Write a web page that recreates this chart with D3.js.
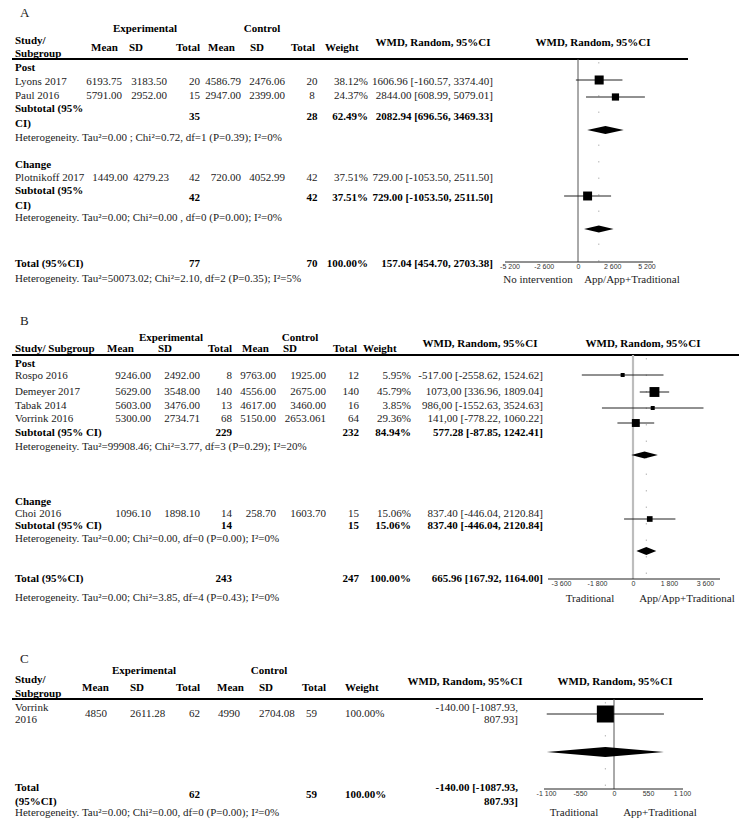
<!DOCTYPE html>
<html><head><meta charset="utf-8">
<script src="https://cdn.jsdelivr.net/npm/d3@7"></script>
<style>
body{margin:0;background:#fff}
svg{display:block}
text{font-family:"Liberation Serif","Times New Roman",serif}
</style>
</head><body>
<svg id="c" width="746" height="825"></svg>
<script>
// ================= DATA =================
// ---- Panel A ----
const studiesA   = ["Lyons 2017","Paul 2016","Plotnikoff 2017"];
const groupOfA   = [0,0,1];
const groupsA    = ["Post","Change"];
const expMeanA   = ["6193.75","5791.00","1449.00"];
const expSDA     = ["3183.50","2952.00","4279.23"];
const expNA      = [20,15,42];
const ctlMeanA   = ["4586.79","2947.00","720.00"];
const ctlSDA     = ["2476.06","2399.00","4052.99"];
const ctlNA      = [20,8,42];
const weightA    = [38.12,24.37,37.51];
const wmdA       = [1606.96,2844.00,729.00];
const loA        = [-160.57,608.99,-1053.50];
const hiA        = [3374.40,5079.01,2511.50];
const ciTextA    = ["1606.96 [-160.57, 3374.40]","2844.00 [608.99, 5079.01]","729.00 [-1053.50, 2511.50]"];
const subExpNA   = [35,42];
const subCtlNA   = [28,42];
const subWeightA = [62.49,37.51];
const subWmdA    = [2082.94,729.00];
const subLoA     = [696.56,-1053.50];
const subHiA     = [3469.33,2511.50];
const subCiTextA = ["2082.94 [696.56, 3469.33]","729.00 [-1053.50, 2511.50]"];
const hetA       = ["Heterogeneity. Tau²=0.00 ; Chi²=0.72, df=1 (P=0.39); I²=0%",
                    "Heterogeneity. Tau²=0.00; Chi²=0.00 , df=0 (P=0.00); I²=0%"];
const totalA     = {expN:77, ctlN:70, weight:100, wmd:1579.04, lo:454.70, hi:2703.38,
                    ciText:"157.04 [454.70, 2703.38]",
                    het:"Heterogeneity. Tau²=50073.02; Chi²=2.10, df=2 (P=0.35); I²=5%"};
const ticksA     = [-5200,-2600,0,2600,5200];
const sideLabelsA= ["No intervention","App/App+Traditional"];

// ---- Panel B ----
const studiesB   = ["Rospo 2016","Demeyer 2017","Tabak 2014","Vorrink 2016","Choi 2016"];
const groupOfB   = [0,0,0,0,1];
const groupsB    = ["Post","Change"];
const expMeanB   = ["9246.00","5629.00","5603.00","5300.00","1096.10"];
const expSDB     = ["2492.00","3548.00","3476.00","2734.71","1898.10"];
const expNB      = [8,140,13,68,14];
const ctlMeanB   = ["9763.00","4556.00","4617.00","5150.00","258.70"];
const ctlSDB     = ["1925.00","2675.00","3460.00","2653.061","1603.70"];
const ctlNB      = [12,140,16,64,15];
const weightB    = [5.95,45.79,3.85,29.36,15.06];
const wmdB       = [-517.00,1073.00,986.00,141.00,837.40];
const loB        = [-2558.62,336.96,-1552.63,-778.22,-446.04];
const hiB        = [1524.62,1809.04,3524.63,1060.22,2120.84];
const ciTextB    = ["-517.00 [-2558.62, 1524.62]","1073,00 [336.96, 1809.04]","986,00 [-1552.63, 3524.63]",
                    "141,00 [-778.22, 1060.22]","837.40 [-446.04, 2120.84]"];
const subExpNB   = [229,14];
const subCtlNB   = [232,15];
const subWeightB = [84.94,15.06];
const subWmdB    = [577.28,837.40];
const subLoB     = [-87.85,-446.04];
const subHiB     = [1242.41,2120.84];
const subCiTextB = ["577.28 [-87.85, 1242.41]","837.40 [-446.04, 2120.84]"];
const hetB       = ["Heterogeneity. Tau²=99908.46; Chi²=3.77, df=3 (P=0.29); I²=20%",
                    "Heterogeneity. Tau²=0.00; Chi²=0.00, df=0 (P=0.00); I²=0%"];
const totalB     = {expN:243, ctlN:247, weight:100, wmd:665.96, lo:167.92, hi:1164.00,
                    ciText:"665.96 [167.92, 1164.00]",
                    het:"Heterogeneity. Tau²=0.00; Chi²=3.85, df=4 (P=0.43); I²=0%"};
const ticksB     = [-3600,-1800,0,1800,3600];
const sideLabelsB= ["Traditional","App/App+Traditional"];

// ---- Panel C ----
const studiesC   = ["Vorrink|2016"];
const expMeanC   = ["4850"];
const expSDC     = ["2611.28"];
const expNC      = [62];
const ctlMeanC   = ["4990"];
const ctlSDC     = ["2704.08"];
const ctlNC      = [59];
const weightC    = [100.00];
const wmdC       = [-140.00];
const loC        = [-1087.93];
const hiC        = [807.93];
const ciTextC    = ["-140.00 [-1087.93,|807.93]"];
const totalC     = {expN:62, ctlN:59, weight:100, wmd:-140.00, lo:-1087.93, hi:807.93,
                    ciText:"-140.00 [-1087.93,|807.93]",
                    het:"Heterogeneity. Tau²=0.00; Chi²=0.00, df=0 (P=0.00); I²=0%"};
const ticksC     = [-1100,-550,0,550,1100];
const sideLabelsC= ["Traditional","App+Traditional"];

// ================= DRAWING =================
const svg = d3.select("#c");
const fmtW = d => d3.format(".2f")(d) + "%";
const fmtTick = d => (d < 0 ? "-" : "") + d3.format(",")(Math.abs(d)).replace(/,/g, " ");

function T(x, y, s, o = {}) {
  const lines = String(s).split("|");
  const lh = o.lh || 14;
  lines.forEach((ln, i) => {
    svg.append("text")
      .attr("x", x).attr("y", y + i * lh).attr("dy", "0.35em")
      .attr("font-size", o.size || 11)
      .attr("text-anchor", o.anchor || "start")
      .attr("font-weight", o.bold ? "bold" : "normal")
      .attr("fill", o.fill || (o.bold ? "#000" : "#222"))
      .text(ln);
  });
}

function header(L) {
  T(L.letter[0], L.letter[1], L.letterText, {size: 13});
  T(L.expHdr[0], L.hdrTopY, "Experimental", {bold: true, anchor: "middle"});
  T(L.ctlHdr[0], L.hdrTopY, "Control", {bold: true, anchor: "middle"});
  T(15, L.studyHdrY, L.studyHdr, {bold: true, lh: L.studyHdrLH});
  const names = ["Mean","SD","Total","Mean","SD","Total","Weight"];
  names.forEach((n, i) => T(L.hdrX[i], L.hdrY, n, {bold: true}));
  T(L.wmdHdr[0], L.wmdHdrY, "WMD, Random, 95%CI", {bold: true, anchor: "middle"});
  T(L.wmdHdr[1], L.wmdHdrY, "WMD, Random, 95%CI", {bold: true, anchor: "middle"});
  svg.append("line").attr("x1", 12).attr("x2", L.ruleX2).attr("y1", L.ruleY).attr("y2", L.ruleY)
    .attr("stroke", "#000").attr("stroke-width", 2);
}

function tableRow(L, y, cells, bold, shift) {
  const C = L.cols;
  Object.keys(cells).forEach(k => {
    if (cells[k] === undefined || cells[k] === null) return;
    const c = C[k];
    const yy = (k === "ci" && L.ciY) ? y + L.ciY : y;
    const dx = (shift && shift[k]) || 0;
    T(c[0] + dx, yy, cells[k], {anchor: c[1], bold: bold, lh: L.ciLH || 14});
  });
}

function forest(L, x, rows, diamonds, total) {
  svg.append("line").attr("x1", x(0)).attr("x2", x(0)).attr("y1", L.ruleY).attr("y2", L.axisY)
    .attr("stroke", L.zeroColor).attr("stroke-width", L.zeroWidth);
  svg.append("line").attr("x1", x(total.wmd)).attr("x2", x(total.wmd)).attr("y1", L.ruleY + 3).attr("y2", L.axisY)
    .attr("stroke", "#b5b5b5").attr("stroke-width", 1).attr("stroke-dasharray", "1.5,15");
  const size = d3.scaleSqrt().domain([0, 100]).range([0, L.maxSq]);
  rows.forEach(r => {
    svg.append("line").attr("x1", x(r.lo)).attr("x2", x(r.hi)).attr("y1", r.y).attr("y2", r.y)
      .attr("stroke", "#222").attr("stroke-width", 1);
    const s = Math.max(4, size(r.w));
    svg.append("rect").attr("x", x(r.est) - s / 2).attr("y", r.y - s / 2).attr("width", s).attr("height", s)
      .attr("fill", "#000");
  });
  diamonds.forEach(d => {
    const pts = [[x(d.lo), d.y], [x(d.est), d.y - d.h], [x(d.hi), d.y], [x(d.est), d.y + d.h]];
    svg.append("polygon").attr("points", pts.map(p => p.join(",")).join(" ")).attr("fill", "#000");
  });
  const g = svg.append("g").attr("transform", `translate(0,${L.axisY})`);
  g.call(d3.axisBottom(x).tickValues(L.ticks).tickFormat(fmtTick).tickSize(0).tickPadding(2));
  g.select(".domain").remove();
  g.append("line").attr("x1", L.axisX[0]).attr("x2", L.axisX[1]).attr("stroke", "#222").attr("stroke-width", 1);
  g.selectAll(".tick text").attr("font-size", 7).attr("fill", "#333")
    .style("font-family", "'Liberation Sans',Arial,sans-serif");
  T(L.sideX[0], L.sideY, L.side[0], {anchor: "middle"});
  T(L.sideX[1], L.sideY, L.side[1], {anchor: "middle"});
}

// ---------------- Panel A ----------------
(function () {
  const L = {
    letterText: "A", letter: [20, 12], hdrTopY: 28, expHdr: [145], ctlHdr: [262],
    studyHdr: "Study/|Subgroup", studyHdrY: 40, studyHdrLH: 13, hdrY: 47,
    hdrX: [91, 129, 176, 208, 250, 291, 325], wmdHdr: [433, 593], wmdHdrY: 42,
    ruleY: 59, ruleX2: 688,
    cols: {expMean: [122, "end"], expSD: [167, "end"], expN: [200, "end"], ctlMean: [241, "end"],
           ctlSD: [285, "end"], ctlN: [312, "middle"], weight: [368, "end"], ci: [493, "end"]},
    axisY: 262, axisX: [505, 653], ticks: ticksA, maxSq: 14.6,
    zeroColor: "#555", zeroWidth: 1, sideX: [538, 632], sideY: 279, side: sideLabelsA
  };
  header(L);
  const x = d3.scaleLinear().domain([-5200, 5200]).range([509.5, 646.5]);
  const layout = [
    {g: 67, studies: [81, 95], marks: [80, 97], shift: [null, null], sub: 108, subN: 116, het: 137, dia: 130},
    {g: 164, studies: [177], marks: [196], shift: [{expMean: 6, expSD: 2}], sub: 190, subN: 197, het: 217, dia: null}
  ];
  const rows = [], diamonds = [];
  groupsA.forEach((gname, gi) => {
    const Ly = layout[gi];
    T(15, Ly.g, gname, {bold: true});
    const idx = d3.range(studiesA.length).filter(i => groupOfA[i] === gi);
    idx.forEach((i, k) => {
      const y = Ly.studies[k];
      T(15, y, studiesA[i]);
      tableRow(L, y, {expMean: expMeanA[i], expSD: expSDA[i], expN: expNA[i], ctlMean: ctlMeanA[i],
        ctlSD: ctlSDA[i], ctlN: ctlNA[i], weight: fmtW(weightA[i]), ci: ciTextA[i]}, false, Ly.shift[k]);
      rows.push({y: Ly.marks[k], est: wmdA[i], lo: loA[i], hi: hiA[i], w: weightA[i]});
    });
    T(15, Ly.sub, "Subtotal (95%|CI)", {bold: true, lh: 15});
    tableRow(L, Ly.subN, {expN: subExpNA[gi], ctlN: subCtlNA[gi], weight: fmtW(subWeightA[gi]), ci: subCiTextA[gi]}, true);
    T(15, Ly.het, hetA[gi]);
    if (Ly.dia) diamonds.push({y: Ly.dia, h: 4, est: subWmdA[gi], lo: subLoA[gi], hi: subHiA[gi]});
  });
  T(15, 263, "Total (95%CI)", {bold: true});
  tableRow(L, 263, {expN: totalA.expN, ctlN: totalA.ctlN, weight: fmtW(totalA.weight), ci: totalA.ciText}, true);
  T(15, 278, totalA.het);
  diamonds.push({y: 229, h: 3.5, est: totalA.wmd, lo: totalA.lo, hi: totalA.hi});
  forest(L, x, rows, diamonds, totalA);
})();

// ---------------- Panel B ----------------
(function () {
  const L = {
    letterText: "B", letter: [20, 320], hdrTopY: 337, expHdr: [171], ctlHdr: [300],
    studyHdr: "Study/ Subgroup", studyHdrY: 348, studyHdrLH: 13, hdrY: 348,
    hdrX: [107, 158, 208, 242, 283, 333, 363], wmdHdr: [480, 643], wmdHdrY: 343,
    ruleY: 355, ruleX2: 739,
    cols: {expMean: [151, "end"], expSD: [200, "end"], expN: [232, "end"], ctlMean: [276, "end"],
           ctlSD: [326, "end"], ctlN: [359, "end"], weight: [411, "end"], ci: [543, "end"]},
    axisY: 579, axisX: [548, 720], ticks: ticksB, maxSq: 14.6,
    zeroColor: "#bdbdbd", zeroWidth: 2.2, sideX: [590, 687], sideY: 598, side: sideLabelsB
  };
  header(L);
  const x = d3.scaleLinear().domain([-3600, 3600]).range([561, 705]);
  const layout = [
    {g: 363, studies: [375, 391, 405, 418], marks: [375, 392, 408, 423], sub: 432, het: 446, dia: 455},
    {g: 501, studies: [513], marks: [519], sub: 525, het: 538, dia: null}
  ];
  const rows = [], diamonds = [];
  groupsB.forEach((gname, gi) => {
    const Ly = layout[gi];
    T(15, Ly.g, gname, {bold: true});
    const idx = d3.range(studiesB.length).filter(i => groupOfB[i] === gi);
    idx.forEach((i, k) => {
      const y = Ly.studies[k];
      T(15, y, studiesB[i]);
      tableRow(L, y, {expMean: expMeanB[i], expSD: expSDB[i], expN: expNB[i], ctlMean: ctlMeanB[i],
        ctlSD: ctlSDB[i], ctlN: ctlNB[i], weight: fmtW(weightB[i]), ci: ciTextB[i]}, false);
      rows.push({y: Ly.marks[k], est: wmdB[i], lo: loB[i], hi: hiB[i], w: weightB[i]});
    });
    T(15, Ly.sub, "Subtotal (95% CI)", {bold: true});
    tableRow(L, Ly.sub, {expN: subExpNB[gi], ctlN: subCtlNB[gi], weight: fmtW(subWeightB[gi]), ci: subCiTextB[gi]}, true);
    T(15, Ly.het, hetB[gi]);
    if (Ly.dia) diamonds.push({y: Ly.dia, h: 3.5, est: subWmdB[gi], lo: subLoB[gi], hi: subHiB[gi]});
  });
  T(15, 578, "Total (95%CI)", {bold: true});
  tableRow(L, 578, {expN: totalB.expN, ctlN: totalB.ctlN, weight: fmtW(totalB.weight), ci: totalB.ciText}, true);
  T(15, 597, totalB.het);
  diamonds.push({y: 551, h: 4, est: totalB.wmd, lo: totalB.lo, hi: totalB.hi});
  forest(L, x, rows, diamonds, totalB);
})();

// ---------------- Panel C ----------------
(function () {
  const L = {
    letterText: "C", letter: [20, 658], hdrTopY: 670, expHdr: [144], ctlHdr: [269],
    studyHdr: "Study/|Subgroup", studyHdrY: 679, studyHdrLH: 14, hdrY: 687,
    hdrX: [82, 130, 176, 217, 259, 302, 345], wmdHdr: [465, 615], wmdHdrY: 681,
    ruleY: 699, ruleX2: 703,
    cols: {expMean: [85, "start"], expSD: [130, "start"], expN: [200, "end"], ctlMean: [218, "start"],
           ctlSD: [259, "start"], ctlN: [317, "end"], weight: [345, "start"], ci: [518, "end"]},
    ciY: -6, ciLH: 12,
    axisY: 789, axisX: [544, 683], ticks: ticksC, maxSq: 17,
    zeroColor: "#555", zeroWidth: 1, sideX: [574, 660], sideY: 812, side: sideLabelsC
  };
  header(L);
  const x = d3.scaleLinear().domain([-1100, 1100]).range([546, 682]);
  const rows = [], diamonds = [];
  studiesC.forEach((s, i) => {
    T(15, 707, s, {lh: 12});
    tableRow(L, 713, {expMean: expMeanC[i], expSD: expSDC[i], expN: expNC[i], ctlMean: ctlMeanC[i],
      ctlSD: ctlSDC[i], ctlN: ctlNC[i], weight: fmtW(weightC[i]), ci: ciTextC[i]}, false);
    rows.push({y: 714, est: wmdC[i], lo: loC[i], hi: hiC[i], w: weightC[i]});
  });
  diamonds.push({y: 752, h: 5, est: totalC.wmd, lo: totalC.lo, hi: totalC.hi});
  T(15, 787, "Total|(95%CI)", {bold: true, lh: 14});
  L.ciY = -7; L.ciLH = 14;
  tableRow(L, 794, {expN: totalC.expN, ctlN: totalC.ctlN, weight: fmtW(totalC.weight), ci: totalC.ciText}, true);
  T(15, 812, totalC.het);
  forest(L, x, rows, diamonds, totalC);
})();
</script>
</body></html>
